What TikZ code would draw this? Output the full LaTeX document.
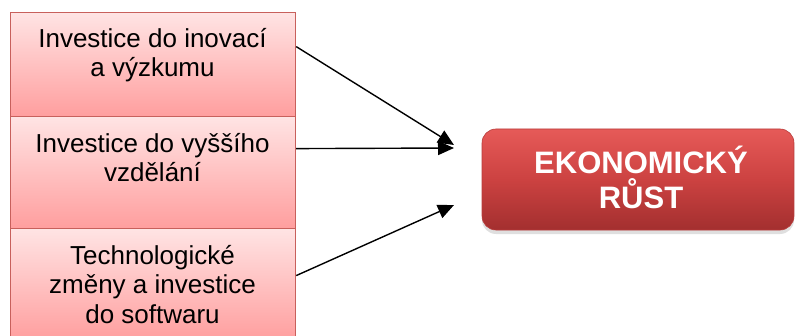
\documentclass[tikz,border=0pt]{standalone}
\usepackage{fontspec}
\setmainfont{Liberation Sans}
\usetikzlibrary{arrows.meta,shadows}
\definecolor{boxborder}{HTML}{C8605C}
\definecolor{pinktop}{HTML}{FFE4E4}
\definecolor{pinkbot}{HTML}{FF9E9E}
\definecolor{redtop}{HTML}{E65A58}
\definecolor{redmid}{HTML}{CC4241}
\definecolor{redbot}{HTML}{A32F2F}
\definecolor{redborder}{HTML}{B83C3B}
\begin{document}
\begin{tikzpicture}[x=1pt,y=1pt,
  leftbox/.style={draw=boxborder, line width=1.2pt, top color=pinktop, bottom color=pinkbot,
    minimum width=285pt, inner sep=0pt, anchor=north west},
  lefttext/.style={font=\fontsize{26}{29.5}\selectfont, align=center, anchor=base, inner sep=0pt, text=black},
  redbox/.style={draw=redborder, line width=0.6pt, rounded corners=14pt, top color=redtop, bottom color=redbot,
    middle color=redmid, minimum width=312pt, minimum height=101pt, inner sep=0pt,
    drop shadow={opacity=0.25, shadow xshift=0pt, shadow yshift=-4pt}},
  redtext/.style={font=\bfseries\fontsize{31}{36}\selectfont, align=center, anchor=base, inner sep=0pt, text=white},
  conn/.style={line width=1.4pt, -{Triangle[length=16pt,width=14pt]}}]
\useasboundingbox (0,0) rectangle (795,335);
\clip (0,0) rectangle (795,335);
\node[leftbox, minimum height=104pt] (b1) at (10,323) {};
\node[leftbox, minimum height=112pt] (b2) at (10,219) {};
\node[leftbox, minimum height=112pt] (b3) at (10,107) {};
\node[lefttext] (t1) at (152.5,258) {Investice do inovací\\a výzkumu};
\node[lefttext] (t2) at (152.5,153) {Investice do vyššího\\vzdělání};
\node[lefttext] (t3) at (152.5,12) {Technologické\\změny a investice\\do softwaru};
\node[redbox] (r) at (638,155.5) {};
\node[redtext] (rt) at (641,126) {EKONOMICKÝ\\RŮST};
\coordinate (e1) at (454,190);
\coordinate (e2) at (454,187);
\coordinate (e3) at (454,130);
\draw[conn] ([yshift=18pt]b1.east) -- (e1);
\draw[conn] ([yshift=24pt]b2.east) -- (e2);
\draw[conn] ([yshift=9pt]b3.east) -- (e3);
\end{tikzpicture}
\end{document}
